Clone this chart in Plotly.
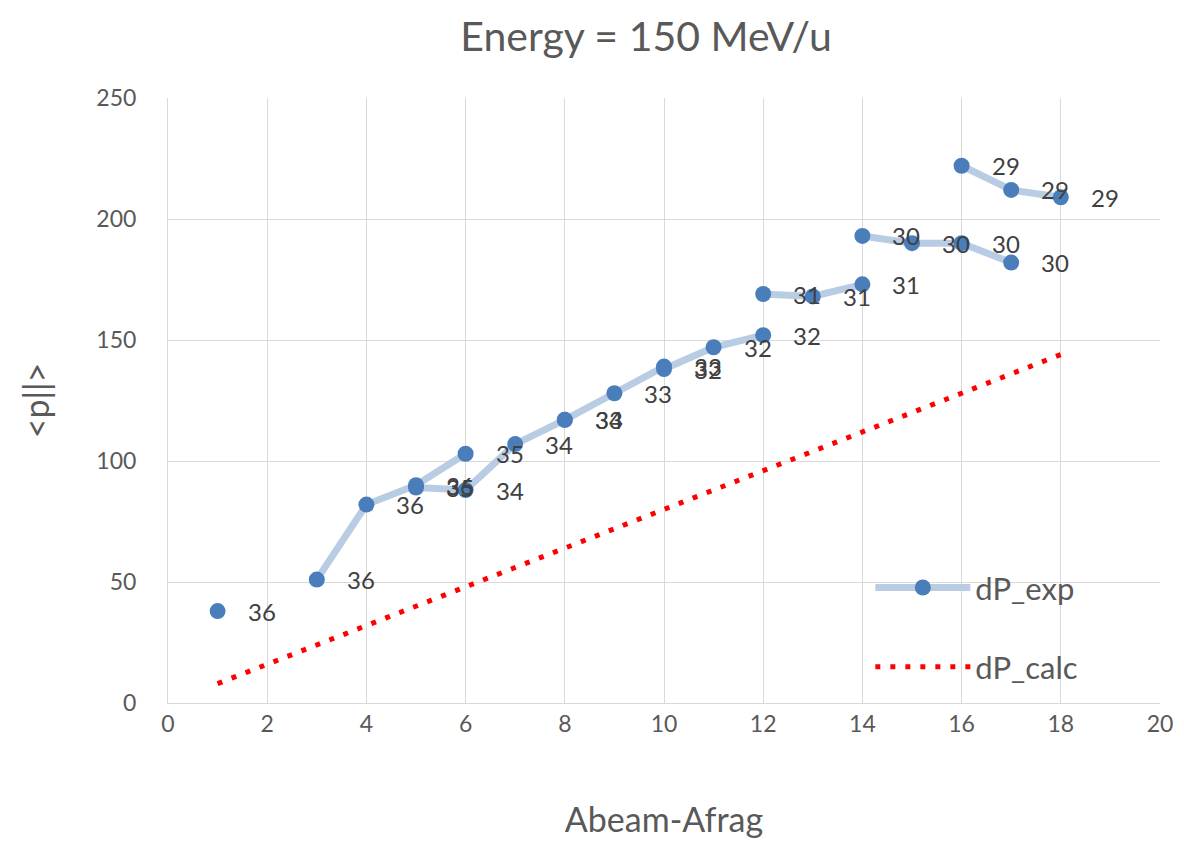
import plotly.graph_objects as go

# ---- data ----
# experimental <p||> vs Abeam-Afrag; None marks a break in the line
x_exp = [1, None, 3, 4, 5, 6, None, 5, 6, 7, 8, 8, 9, 10, 10, 11, 12, None,
         12, 13, 14, None, 14, 15, 16, 17, None, 16, 17, 18]
y_exp = [38, None, 51, 82, 90, 103, None, 89, 88, 107, 117, 117, 128, 139, 138, 147, 152, None,
         169, 168, 173, None, 193, 190, 190, 182, None, 222, 212, 209]
z_labels = ["36", "", "36", "36", "36", "35", "", "35", "34", "34", "34", "33", "33", "33", "32", "32", "32", "",
            "31", "31", "31", "", "30", "30", "30", "30", "", "29", "29", "29"]

# calculated values
x_calc = [1, 3, 4, 5, 6, 7, 8, 9, 10, 11, 12, 13, 14, 15, 16, 17, 18]
y_calc = [8, 24, 32, 40, 48, 56, 64, 72, 80, 88, 96, 104, 112, 120, 128, 136, 144]

x_ticks = [0, 2, 4, 6, 8, 10, 12, 14, 16, 18, 20]
y_ticks = [0, 50, 100, 150, 200, 250]

FONT = "Lato, 'Open Sans', sans-serif"
GRAY = "#595959"
GRID = "#d9d9d9"

fig = go.Figure()

fig.add_trace(go.Scatter(
    x=x_exp, y=y_exp, name="dP_exp", mode="lines+markers",
    line=dict(color="#b8cce4", width=7),
    marker=dict(color="#4a7ebb", size=16),
    connectgaps=False, legendgroup="exp",
))

fig.add_trace(go.Scatter(
    x=x_calc, y=y_calc, name="dP_calc", mode="lines",
    line=dict(color="#ff0000", width=5, dash="5px,10px"),
    legendgroup="calc",
))

annotations = []
for xv, yv, lab in zip(x_exp, y_exp, z_labels):
    if xv is None or not lab:
        continue
    annotations.append(dict(
        x=xv, y=yv, xref="x", yref="y", text=lab, showarrow=False,
        xanchor="center", yanchor="middle", xshift=44,
        font=dict(family=FONT, size=24, color="#404040"),
    ))

fig.update_layout(
    width=1184, height=843, autosize=False,
    margin=dict(l=168, r=24, t=98, b=140),
    paper_bgcolor="white", plot_bgcolor="white",
    font=dict(family=FONT, color=GRAY),
    title=dict(text="Energy = 150 MeV/u", x=0.482, xref="paper", xanchor="center",
               y=1 - 37 / 843, yref="container", yanchor="middle",
               font=dict(family=FONT, size=41, color=GRAY)),
    xaxis=dict(range=[0, 20], tickvals=x_ticks, ticktext=[str(v) for v in x_ticks],
               showgrid=True, gridcolor=GRID, gridwidth=1, automargin=False,
               showline=True, linecolor=GRID, linewidth=1, zeroline=False, ticks="",
               tickfont=dict(family=FONT, size=23, color=GRAY), ticklabelstandoff=0,
               title=dict(text="Abeam-Afrag", standoff=72,
                          font=dict(family=FONT, size=34, color=GRAY))),
    yaxis=dict(range=[0, 250], tickvals=y_ticks, ticktext=[str(v) for v in y_ticks],
               showgrid=True, gridcolor=GRID, gridwidth=1, automargin=False,
               showline=True, linecolor=GRID, linewidth=1, zeroline=False, ticks="",
               tickfont=dict(family=FONT, size=23, color=GRAY), ticklabelstandoff=26,
               title=dict(text="&lt;p||&gt;", standoff=36,
                          font=dict(family=FONT, size=34, color=GRAY))),
    legend=dict(x=0.708, y=0.235, xanchor="left", yanchor="top",
                bgcolor="rgba(0,0,0,0)", borderwidth=0,
                font=dict(family=FONT, size=31, color=GRAY),
                tracegroupgap=36, itemwidth=95),
    annotations=annotations,
    showlegend=True,
)

fig.write_html("out.html")
